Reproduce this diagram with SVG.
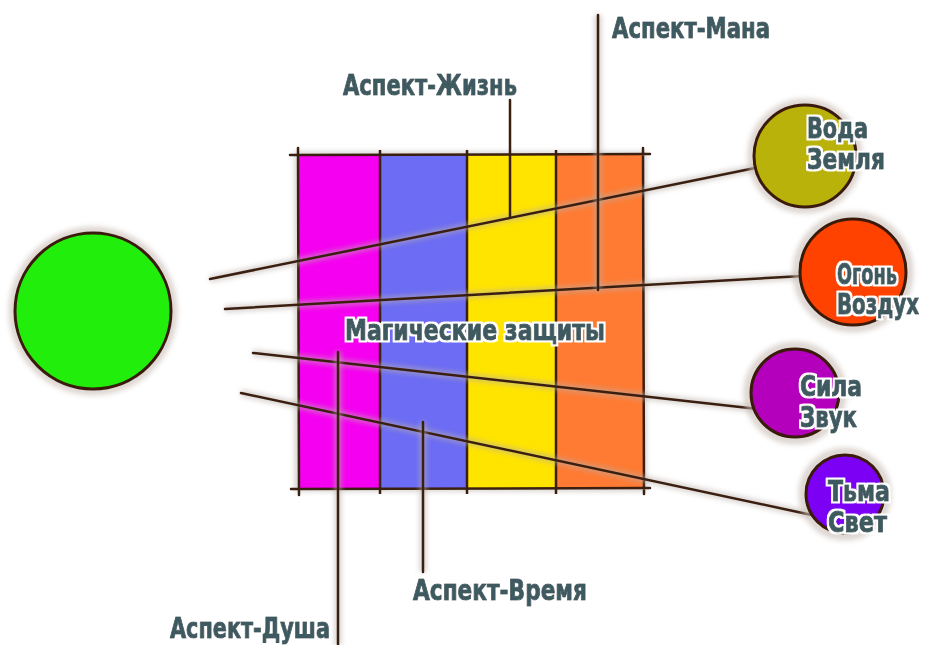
<svg xmlns="http://www.w3.org/2000/svg" width="931" height="645" viewBox="0 0 931 645">
<defs>
<filter id="blur" x="-20%" y="-20%" width="140%" height="140%"><feGaussianBlur stdDeviation="2.5"/></filter>
<filter id="outline" x="-10%" y="-30%" width="120%" height="160%">
<feMorphology in="SourceAlpha" operator="dilate" radius="2" result="d"/>
<feFlood flood-color="#ffffff"/>
<feComposite in2="d" operator="in" result="w"/>
<feMerge><feMergeNode in="w"/><feMergeNode in="SourceGraphic"/></feMerge>
</filter>
<style>
.lbl{font-family:"DejaVu Sans","Liberation Sans",sans-serif;font-weight:bold;font-stretch:condensed;font-size:28px;fill:#3e5a60;stroke:#3e5a60;stroke-width:1px;stroke-linejoin:round;filter:url(#outline)}
.ln{stroke:#3a1f10;stroke-width:2.5;fill:none;stroke-linecap:round}
.halo{stroke:#b8aea8;stroke-width:7;fill:none;opacity:0.55;filter:url(#blur)}
.ring{fill:none;stroke:#c8bcb4;stroke-width:9;opacity:0.6;filter:url(#blur)}
.circ{stroke:#3a1a0a;stroke-width:3}
.col{stroke:#3a1f10;stroke-width:2.5}
</style>
</defs>
<rect width="931" height="645" fill="#ffffff"/>

<g id="source-node">
<circle class="ring" cx="93" cy="311" r="80"/>
<circle class="circ" cx="93" cy="311" r="78" fill="#22ee0c"/>
</g>

<g id="magic-defenses">
<rect class="halo" x="298" y="155" width="345" height="333"/>
<rect x="298" y="155" width="82" height="333" fill="#f500f0"/>
<rect x="380" y="155" width="87" height="333" fill="#6c6cf4"/>
<rect x="467" y="155" width="89" height="333" fill="#ffe400"/>
<rect x="556" y="155" width="87" height="333" fill="#ff7b33"/>
<line class="col" x1="380" y1="150" x2="380" y2="494"/>
<line class="col" x1="467" y1="150" x2="467" y2="494"/>
<line class="col" x1="556" y1="150" x2="556" y2="494"/>
<path class="ln" d="M290 155 L650 154 M643 148 L644 494 M291 489 L650 488 M298 148 L299 495" stroke-width="3"/>
<text class="lbl" x="345" y="340" textLength="260" lengthAdjust="spacingAndGlyphs">Магические защиты</text>
</g>

<g id="connectors">
<path class="halo" d="M210 279 L760 167 M225 309 L803 276 M253 353 L758 409 M241 393 L812 515"/>
<path class="ln" d="M210 279 L760 167"/>
<path class="ln" d="M225 309 L803 276"/>
<path class="ln" d="M253 353 L758 409"/>
<path class="ln" d="M241 393 L812 515"/>
<path class="halo" d="M598 15 L598 290 M338 352 L338 645 M423 422 L423 572"/>
<path class="ln" d="M510 100 L510 218"/>
<path class="ln" d="M598 15 L598 290"/>
<path class="ln" d="M338 352 L338 645" stroke-width="3"/>
<path class="ln" d="M423 422 L423 572"/>
</g>

<g id="aspect-mana"><text class="lbl" x="612" y="38" textLength="158" lengthAdjust="spacingAndGlyphs">Аспект-Мана</text></g>
<g id="aspect-life"><text class="lbl" x="343" y="95" textLength="174" lengthAdjust="spacingAndGlyphs">Аспект-Жизнь</text></g>
<g id="aspect-time"><text class="lbl" x="413" y="600" textLength="174" lengthAdjust="spacingAndGlyphs">Аспект-Время</text></g>
<g id="aspect-soul"><text class="lbl" x="170" y="638" textLength="160" lengthAdjust="spacingAndGlyphs">Аспект-Душа</text></g>

<g id="water-earth">
<circle class="ring" cx="805" cy="156" r="53"/>
<circle class="circ" cx="805" cy="156" r="51" fill="#b9b20a"/>
<text class="lbl" x="807" y="138" textLength="61" lengthAdjust="spacingAndGlyphs">Вода</text>
<text class="lbl" x="807" y="169" textLength="78" lengthAdjust="spacingAndGlyphs">Земля</text>
</g>
<g id="fire-air">
<circle class="ring" cx="853" cy="272" r="56"/>
<circle class="circ" cx="853" cy="272" r="53" fill="#ff4200"/>
<text class="lbl" x="837" y="284" textLength="60" lengthAdjust="spacingAndGlyphs">Огонь</text>
<text class="lbl" x="837" y="314" textLength="82" lengthAdjust="spacingAndGlyphs">Воздух</text>
</g>
<g id="force-sound">
<circle class="ring" cx="795" cy="393" r="47"/>
<circle class="circ" cx="795" cy="393" r="44" fill="#b400bc"/>
<text class="lbl" x="800" y="396" textLength="62" lengthAdjust="spacingAndGlyphs">Сила</text>
<text class="lbl" x="800" y="427" textLength="57" lengthAdjust="spacingAndGlyphs">Звук</text>
</g>
<g id="dark-light">
<circle class="ring" cx="845" cy="494" r="42"/>
<circle class="circ" cx="845" cy="494" r="39" fill="#7c00f4"/>
<text class="lbl" x="828" y="501" textLength="62" lengthAdjust="spacingAndGlyphs">Тьма</text>
<text class="lbl" x="828" y="532" textLength="59" lengthAdjust="spacingAndGlyphs">Свет</text>
</g>
</svg>
